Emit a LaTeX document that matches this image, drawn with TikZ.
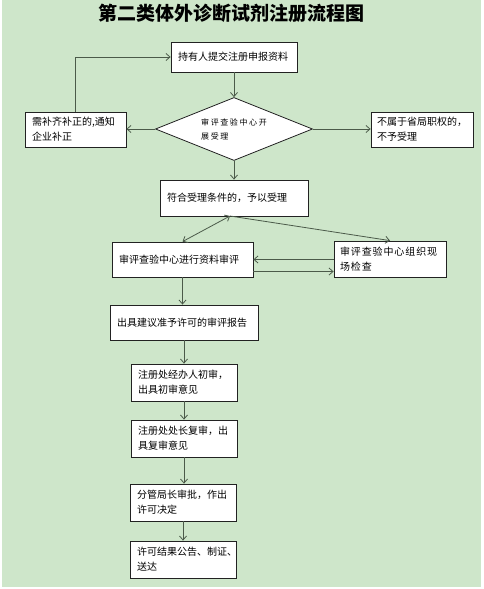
\documentclass[tikz,border=0pt]{standalone}
\usepackage{fontspec}
\newfontfamily\cjk{Noto Sans CJK SC}
\newfontfamily\cjkwide{Noto Sans CJK SC}[LetterSpace=20]
\newfontfamily\cjkspaced{Noto Sans CJK SC}[LetterSpace=9]
\usetikzlibrary{shapes.geometric, arrows.meta}
\definecolor{pagegreen}{HTML}{CEE6CA}
\definecolor{linegray}{HTML}{4B5A49}
\definecolor{boxline}{HTML}{222222}
\tikzset{
  box/.style={
    draw=boxline, fill=white, line width=0.8pt,
    inner xsep=7pt, inner ysep=0pt, align=left,
    font=\cjk\fontsize{10}{15}\selectfont, text=black
  },
  dia/.style={
    diamond, aspect=2.5, draw=boxline, fill=white, line width=0.8pt,
    inner sep=0pt, minimum width=157pt, minimum height=63pt,
    align=left, font=\cjkwide\fontsize{8}{14}\selectfont, text=black
  },
  arr/.style={-{Straight Barb[length=4pt,width=7pt]}, line width=0.8pt, color=linegray},
  darr/.style={{Straight Barb[length=4pt,width=7pt]}-{Straight Barb[length=4pt,width=7pt]},
    line width=0.8pt, color=linegray},
}

\begin{document}
\begin{tikzpicture}[x=1pt, y=-1pt]
  % Page
  \useasboundingbox (0,0) rectangle (484,589);
  \fill[white] (0,0) rectangle (484,589);
  \fill[pagegreen] (2,0) rectangle (481,587);

  % Title
  \node[font=\cjk\bfseries\fontsize{19}{20}\selectfont]
    (title) at (231,13) {第二类体外诊断试剂注册流程图};

  % Acceptance
  \node[box, text width=112pt, minimum height=30pt] (submit) at (234,57) {持有人提交注册申报资料};
  \node[dia] (check) at (234,129) {审评查验中心开\\展受理};
  \node[box, text width=87pt, minimum height=35pt] (fix) at (75.5,129.5) {需补齐补正的,通知\\企业补正};
  \node[box, text width=90pt, inner xsep=6pt, minimum height=35pt] (reject) at (422,129.5) {不属于省局职权的，\\不予受理};
  \node[box, text width=134pt, minimum height=36pt] (accept) at (234,198) {符合受理条件的，予以受理};

  % Review
  \node[box, text width=127pt, minimum height=35pt] (review) at (182.5,259.5) {审评查验中心进行资料审评};
  \node[box, text width=100pt, inner xsep=6pt, minimum height=36pt,
        font=\cjkspaced\fontsize{10}{15}\selectfont] (site) at (390,259) {审评查验中心组织现\\场检查};
  \node[box, text width=134pt, minimum height=35pt] (report) at (184,322.5) {出具建议准予许可的审评报告};

  % Approval
  \node[box, text width=92pt, minimum height=37pt] (first) at (184,382.5) {注册处经办人初审，\\出具初审意见};
  \node[box, text width=92pt, minimum height=37pt] (second) at (184,438.5) {注册处处长复审，出\\具复审意见};
  \node[box, text width=92pt, minimum height=37pt] (approve) at (183,502.5) {分管局长审批，作出\\许可决定};
  \node[box, text width=100pt, inner xsep=3pt, minimum height=37pt] (result) at (183,559.5) {\hspace*{4pt}许可结果公告、制证、\\\hspace*{4pt}送达};

  % Arrows
  \draw[arr] (submit) -- (check);
  \draw[arr] (check.west) -- (check.west -| fix.east);
  \draw[arr] (check.east) -- (check.east -| reject.west);
  \draw[arr] (fix.north) |- (submit.west);
  \draw[arr] (check.south) -- (accept.north);
  \coordinate (fork) at (230,216);
  \draw[darr] (fork) -- (review.north);
  \draw[arr] (fork) -- (site.north);
  \draw[arr] (site.west |- review.east) -- (review.east);
  \draw[arr] ([yshift=-12pt]review.east) -- ([yshift=-12pt]review.east -| site.west);
  \draw[arr] (review.south) -- (review.south |- report.north);
  \draw[arr] (report.south) -- (first.north);
  \draw[arr] (first.south) -- (second.north);
  \draw[arr] (second.south) -- (second.south |- approve.north);
  \draw[arr] (approve.south) -- (result.north);
\end{tikzpicture}
\end{document}
